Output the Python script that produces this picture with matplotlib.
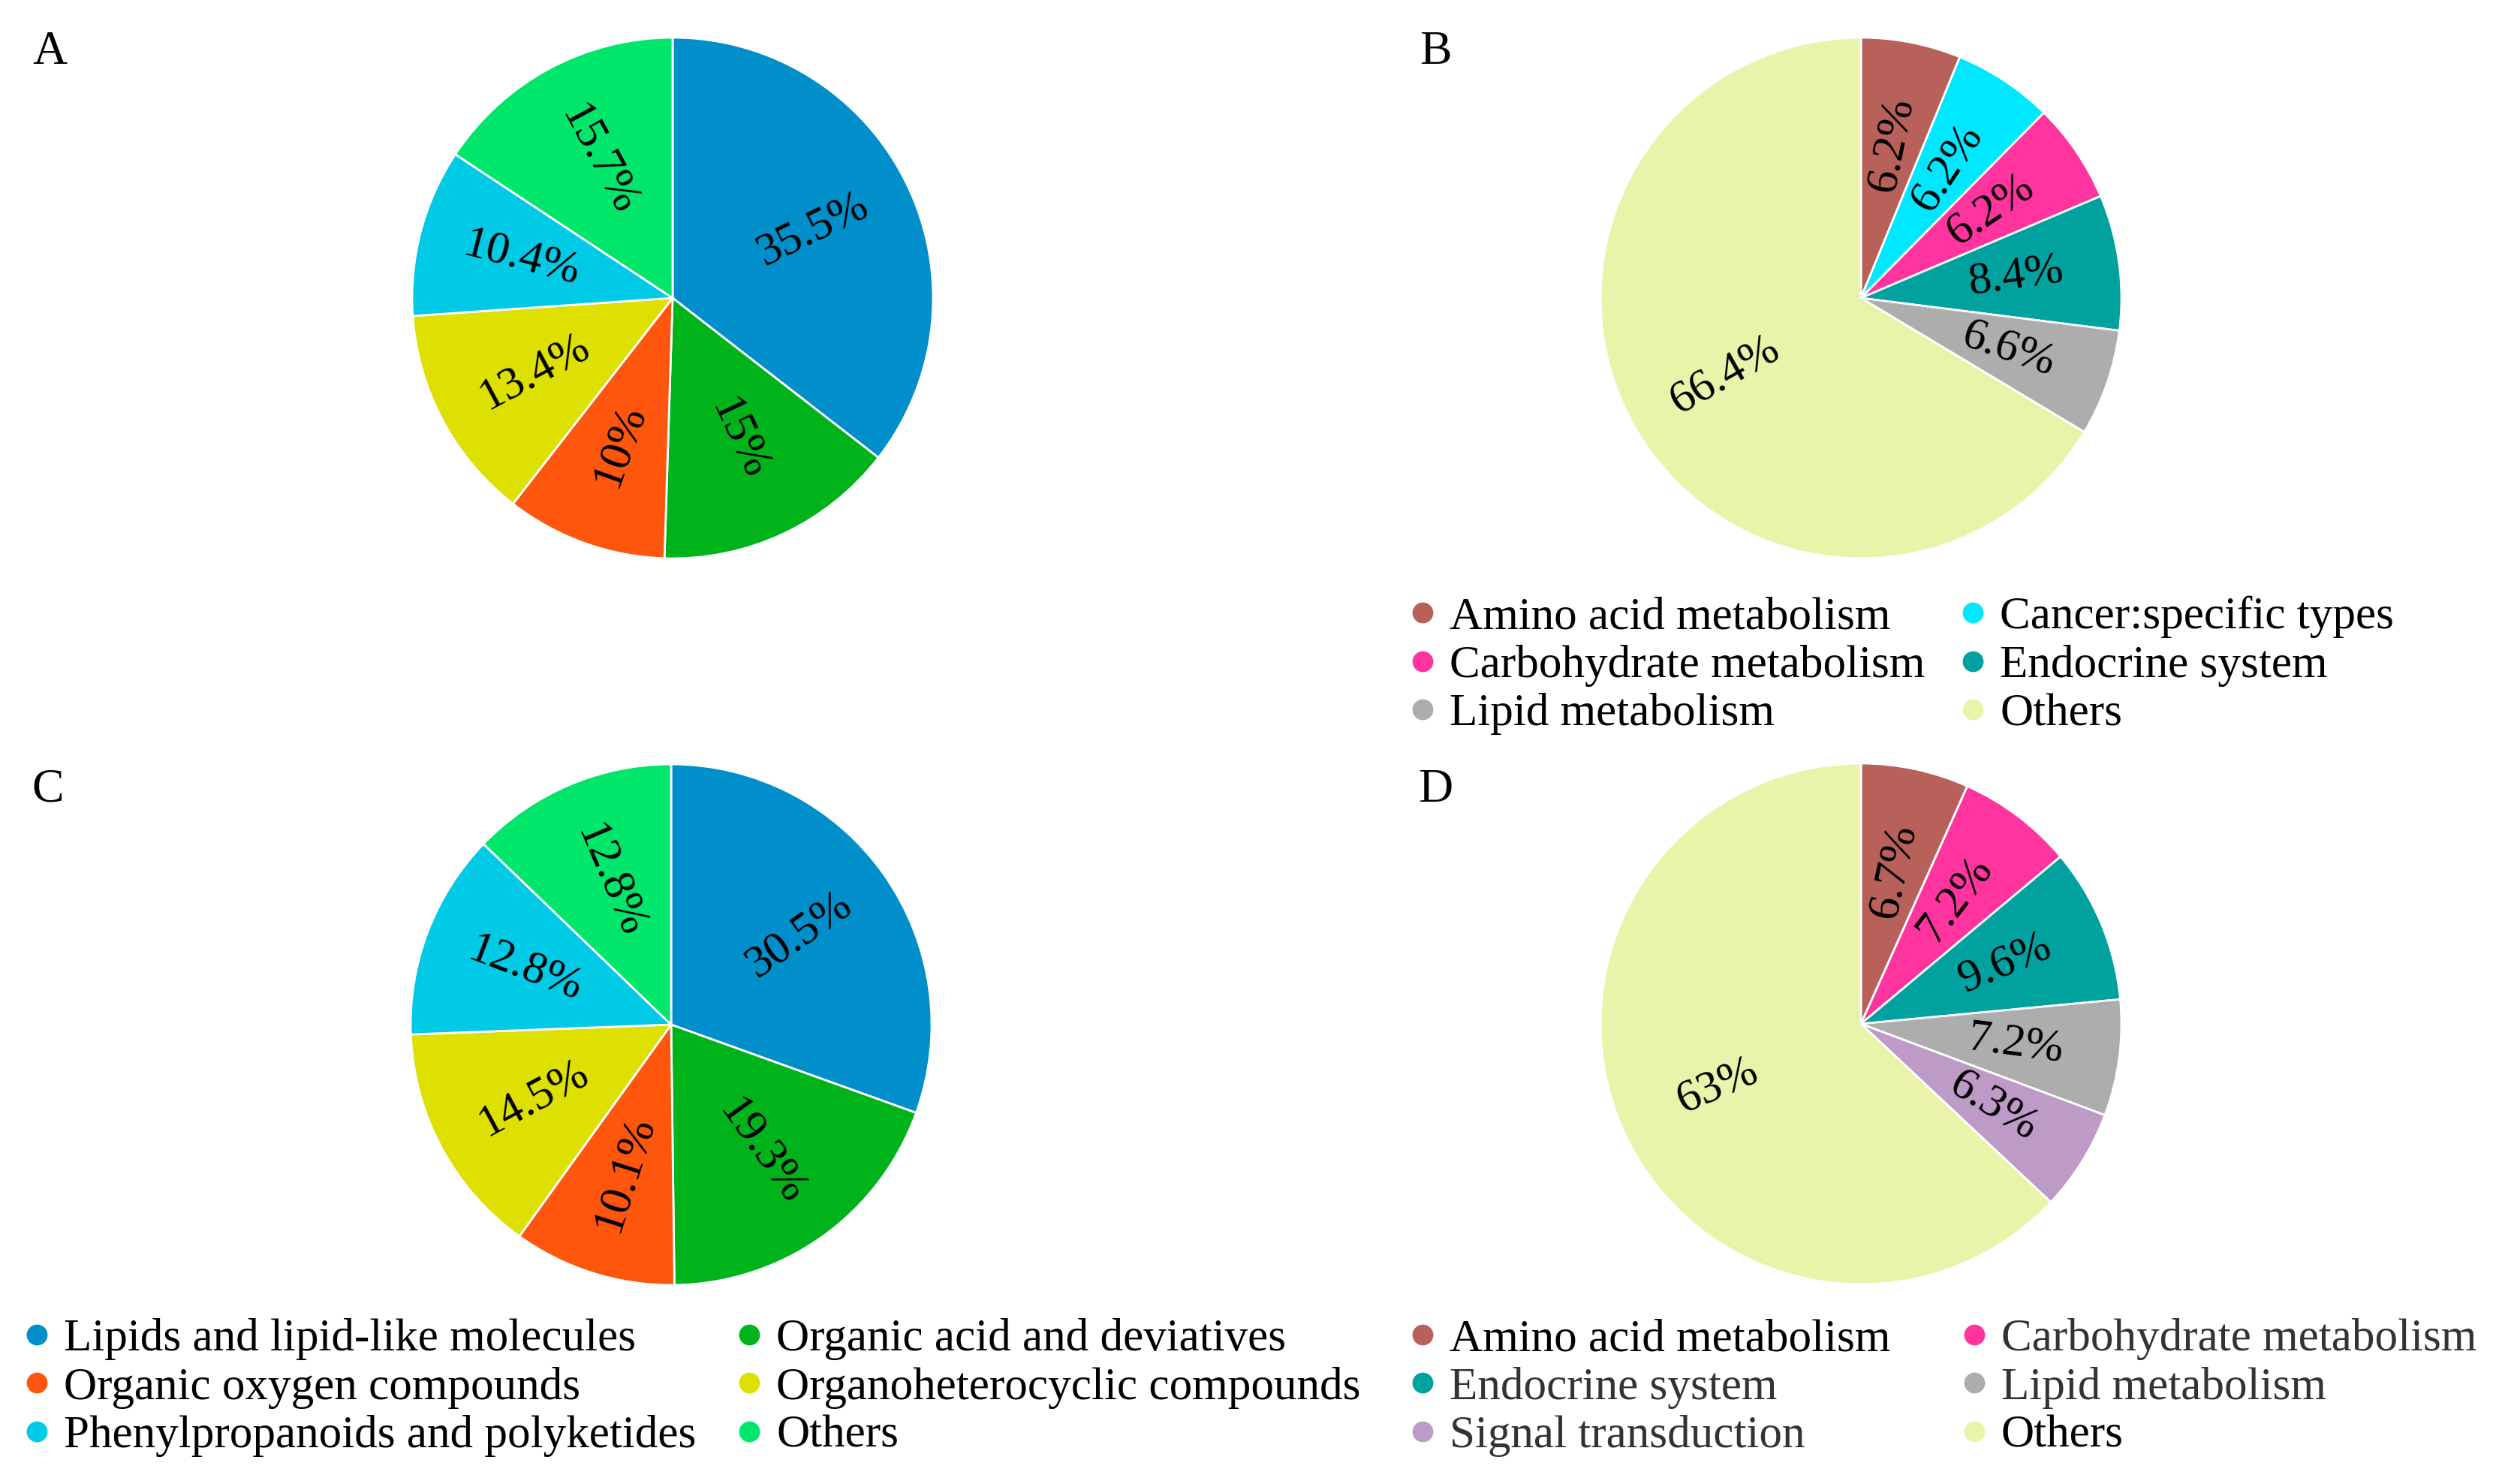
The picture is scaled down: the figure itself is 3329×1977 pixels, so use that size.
import numpy as np
import matplotlib.pyplot as plt
from matplotlib.lines import Line2D

plt.rcParams['font.family'] = ['Liberation Serif', 'DejaVu Serif']

# ---- data ----
cls_names = ['Lipids and lipid-like molecules', 'Organic acid and deviatives',
             'Organic oxygen compounds', 'Organoheterocyclic compounds',
             'Phenylpropanoids and polyketides', 'Others']
cls_colors = ['#008FCA', '#00B31B', '#FF560D', '#DDE000', '#00CAE5', '#00E66A']
a_vals = [35.5, 15.0, 10.0, 13.4, 10.4, 15.7]
a_labels = ['35.5%', '15%', '10%', '13.4%', '10.4%', '15.7%']
c_vals = [30.5, 19.3, 10.1, 14.5, 12.8, 12.8]
c_labels = ['30.5%', '19.3%', '10.1%', '14.5%', '12.8%', '12.8%']

b_names = ['Amino acid metabolism', 'Cancer:specific types', 'Carbohydrate metabolism',
           'Endocrine system', 'Lipid metabolism', 'Others']
b_colors = ['#B8605A', '#00E8FF', '#FF349F', '#00A19F', '#ADADAD', '#EAF3AA']
b_vals = [6.2, 6.2, 6.2, 8.4, 6.6, 66.4]
b_labels = ['6.2%', '6.2%', '6.2%', '8.4%', '6.6%', '66.4%']

d_names = ['Amino acid metabolism', 'Carbohydrate metabolism', 'Endocrine system',
           'Lipid metabolism', 'Signal transduction', 'Others']
d_colors = ['#B8605A', '#FF349F', '#00A19F', '#ADADAD', '#BE9AC7', '#EAF3AA']
d_vals = [6.7, 7.2, 9.6, 7.2, 6.3, 63.0]
d_labels = ['6.7%', '7.2%', '9.6%', '7.2%', '6.3%', '63%']
d_text_colors = ['black', '#333333', '#333333', '#333333', '#333333', 'black']

W, H = 3330, 1977
R = 347
FS = 44

fig = plt.figure(figsize=(W / 100, H / 100), dpi=100)


def draw_pie(cx, cy, vals, labels, colors):
    pad = 1.02
    ax = fig.add_axes([(cx - R * pad) / W, 1 - (cy + R * pad) / H, 2 * R * pad / W, 2 * R * pad / H])
    wedges, _ = ax.pie(vals, colors=colors, startangle=90, counterclock=False, radius=1,
                       wedgeprops=dict(edgecolor='white', linewidth=2))
    for w, lab in zip(wedges, labels):
        mid = (w.theta1 + w.theta2) / 2.0
        x = 0.6 * np.cos(np.deg2rad(mid))
        y = 0.6 * np.sin(np.deg2rad(mid))
        # radial text, flipped on the left half so it never reads upside down
        rot = (mid + 180) % 360 - 180
        if rot > 90:
            rot -= 180
        elif rot < -90:
            rot += 180
        ax.text(x, y, lab, rotation=rot, rotation_mode='anchor', ha='center', va='center',
                fontsize=FS)
    ax.set_xlim(-pad, pad)
    ax.set_ylim(-pad, pad)
    ax.set_aspect('equal')
    ax.axis('off')
    return ax


def add_legend(names, colors, x0, ytop, colsp, text_colors=None):
    handles = [Line2D([], [], marker='o', linestyle='', markersize=19, markerfacecolor=c,
                      markeredgecolor=c) for c in colors]
    order = [0, 2, 4, 1, 3, 5]  # fill row by row
    leg = fig.legend([handles[i] for i in order], [names[i] for i in order], ncol=2,
                     loc='upper left', bbox_to_anchor=(x0 / W, 1 - ytop / H), frameon=False,
                     fontsize=FS, handlelength=0.5, handletextpad=0.34, columnspacing=colsp,
                     labelspacing=0.14, borderpad=0, borderaxespad=0)
    if text_colors is not None:
        for t, i in zip(leg.get_texts(), order):
            t.set_color(text_colors[i])
    return leg


draw_pie(896, 397, a_vals, a_labels, cls_colors)
draw_pie(2479, 397, b_vals, b_labels, b_colors)
draw_pie(894, 1365, c_vals, c_labels, cls_colors)
draw_pie(2479, 1364, d_vals, d_labels, d_colors)

add_legend(b_names, b_colors, 1880, 794, 0.79)
add_legend(cls_names, cls_colors, 34, 1756, 0.90)
add_legend(d_names, d_colors, 1880, 1756, 1.57, d_text_colors)

for lab, x, y in [('A', 66, 70), ('B', 1912, 70), ('C', 64, 1053), ('D', 1912, 1053)]:
    fig.text(x / W, 1 - y / H, lab, fontsize=46, ha='center', va='center')

fig.savefig('out.png', dpi=100)
